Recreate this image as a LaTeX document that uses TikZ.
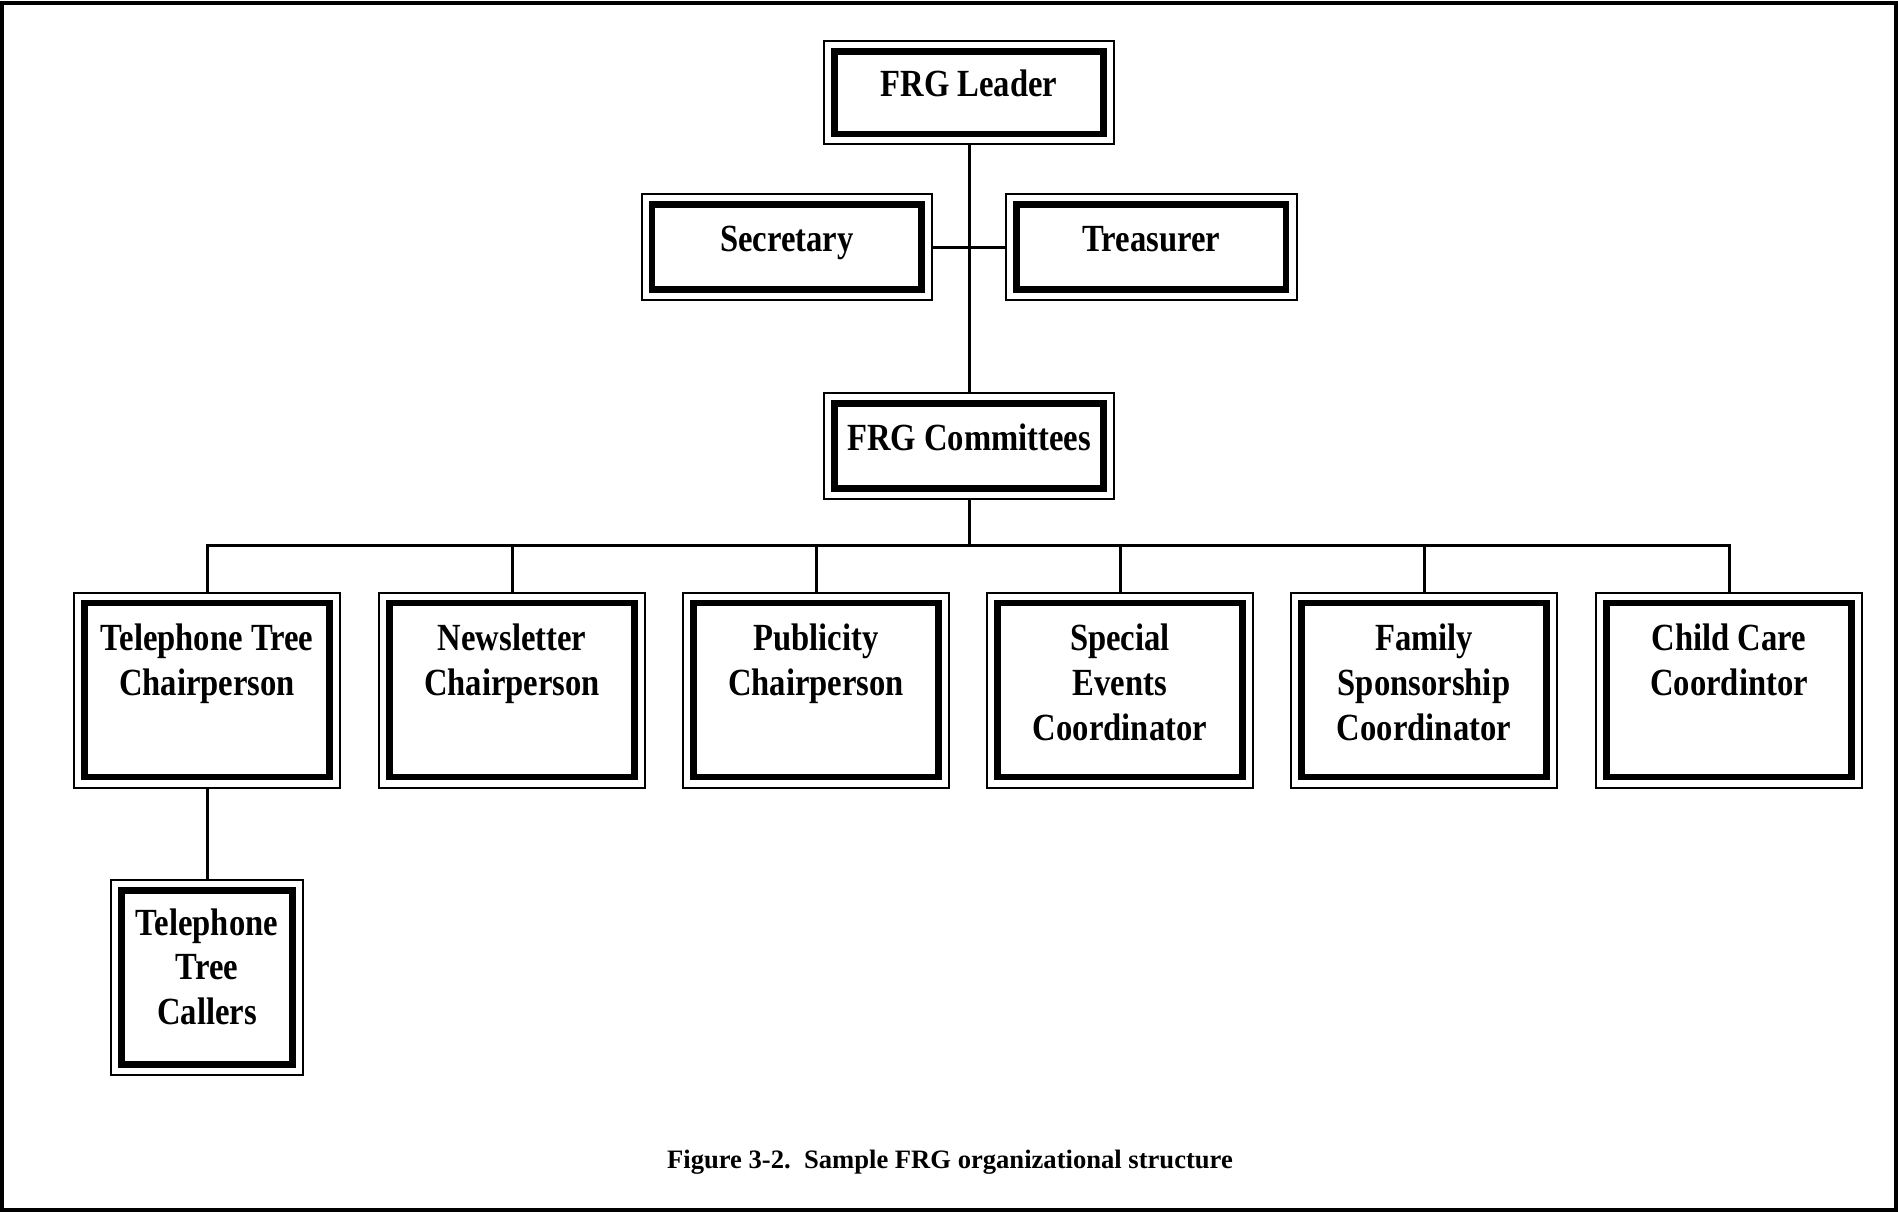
\documentclass[tikz,border=0pt]{standalone}
\usepackage{fontspec}
\setmainfont{Liberation Serif}
\newfontfamily\boxfont{Liberation Serif}[FakeStretch=0.85]
\usetikzlibrary{calc}

% text block for the tall boxes: fixed-height parbox, first baseline at #1 below the top
\newcommand\topblock[3]{\parbox[c][97.5pt][t]{#2}{\centering\rule{0pt}{#1}#3}}

\begin{document}
\begin{tikzpicture}[x=0.5pt,y=-0.5pt,
  frgbox/.style={draw, line width=1pt, inner sep=0pt, outer sep=0pt,
    font=\boxfont\bfseries\fontsize{19.2}{22.4}\selectfont, align=center,
    append after command={\pgfextra{\let\thisbox=\tikzlastnode
      \draw[line width=3.3pt]
        ($(\thisbox.north west)+(5.3pt,-5.2pt)$) rectangle
        ($(\thisbox.south east)+(-5.3pt,5.2pt)$);}}},
  onebox/.style={frgbox, minimum width=145.3pt, text height=10pt, text depth=6pt},
  tallbox/.style={frgbox, minimum width=133pt, minimum height=97.5pt},
  link/.style={line width=1.5pt}]

  \useasboundingbox (0,0) rectangle (1898,1212);
  % page frame
  \draw[line width=2.2pt] (2,3) rectangle (1896,1210);

  % top of the structure
  \node[onebox, minimum height=51.5pt] (leader) at (969,92.8) {FRG Leader};
  \node[onebox, minimum height=53pt] (secretary) at (786.8,247) {Secretary};
  \node[onebox, minimum height=53pt] (treasurer) at (1151.2,247) {Treasurer};
  \node[onebox, minimum height=53pt] (committees) at (969,446) {FRG Committees};

  % committee chairs
  \node[tallbox] (tel) at (207,690) {\topblock{29pt}{125pt}{Telephone Tree\\Chairperson}};
  \node[tallbox] (news) at (512,690) {\topblock{29pt}{125pt}{Newsletter\\Chairperson}};
  \node[tallbox] (pub) at (816,690) {\topblock{29pt}{125pt}{Publicity\\Chairperson}};
  \node[tallbox] (events) at (1120,690) {\topblock{29pt}{125pt}{Special\\Events\\Coordinator}};
  \node[tallbox] (family) at (1424,690) {\topblock{29pt}{125pt}{Family\\Sponsorship\\Coordinator}};
  \node[tallbox] (child) at (1729,690) {\topblock{29pt}{125pt}{Child Care\\Coordintor}};

  \node[tallbox, minimum width=96pt] (callers) at (207,977.5)
    {\topblock{27.5pt}{90pt}{Telephone\\Tree\\Callers}};

  % connectors
  \coordinate (bus) at (969,545.5);
  \draw[link] (leader.south) -- (committees.north);
  \draw[link] (secretary.east) -- (treasurer.west);
  \draw[link] (committees.south) -- (bus);
  \foreach \n in {tel,news,pub,events,family,child}
    \draw[link] (\n.north) |- (bus);
  \draw[link] (tel.south) -- (callers.north);

  % caption
  \node[anchor=base, font=\bfseries\fontsize{13.3}{16}\selectfont] (caption) at (950,1168)
    {Figure 3-2.\ \ Sample FRG organizational structure};
\end{tikzpicture}
\end{document}
